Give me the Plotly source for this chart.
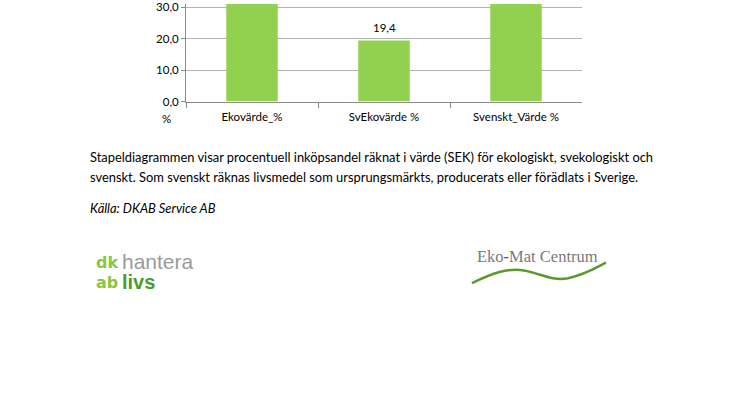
import plotly.graph_objects as go

W, H = 746, 419

categories = ["Ekovärde_%", "SvEkovärde %", "Svenskt_Värde %"]
values = [36.0, 19.4, 52.0]   # first and last bars run beyond the visible crop
y_tickvals = [0, 10, 20, 30]
y_ticktext = ["0,0", "10,0", "20,0", "30,0"]
y_top = 31.05

caption_lines = [
    "Stapeldiagrammen visar procentuell inköpsandel räknat i värde (SEK) för ekologiskt, svekologiskt och",
    "svenskt. Som svenskt räknas livsmedel som ursprungsmärkts, producerats eller förädlats i Sverige.",
]
source_text = "Källa: DKAB Service AB"

FONT = "Lato, 'Open Sans', sans-serif"

def px(x):
    return x / W

def py(y):
    return 1 - y / H

fig = go.Figure()
fig.add_trace(go.Bar(
    x=categories, y=values, width=0.39,
    marker=dict(color="#92D050", line=dict(width=0)),
    hoverinfo="skip",
))

fig.update_layout(
    width=W, height=H,
    margin=dict(l=0, r=0, t=0, b=0),
    paper_bgcolor="white", plot_bgcolor="white",
    showlegend=False,
    font=dict(family=FONT, size=11.5, color="#000000"),
    xaxis=dict(
        domain=[px(186), px(582)],
        type="category",
        showline=True, linecolor="#8a8a8a", linewidth=1,
        ticks="outside", tickson="boundaries", ticklen=5, tickcolor="#8a8a8a",
        ticklabelstandoff=5,
        showgrid=False, tickfont=dict(family=FONT, size=11.5, color="#000000"),
        fixedrange=True,
    ),
    yaxis=dict(
        domain=[py(100), 1.0],
        range=[0, y_top],
        tickvals=y_tickvals, ticktext=y_ticktext,
        ticklabeloverflow="allow",
        showline=True, linecolor="#8a8a8a", linewidth=1,
        ticks="outside", ticklen=4, tickcolor="#8a8a8a",
        showgrid=True, gridcolor="#b4b4b4", gridwidth=1,
        zeroline=False,
        tickfont=dict(family=FONT, size=11.5, color="#000000"),
        fixedrange=True,
    ),
)

# data labels (only for bars whose top is inside the visible crop)
data_labels = []
for c, v in zip(categories, values):
    if v < y_top:
        data_labels.append(dict(text=("%.1f" % v).replace(".", ","), x=c, y=v,
                                xref="x", yref="y", xanchor="center", yanchor="bottom",
                                yshift=5, showarrow=False,
                                font=dict(family=FONT, size=11.5, color="#000000")))

annotations = [
    dict(text="%", x=px(166), y=py(117), xanchor="center", yanchor="middle",
         font=dict(family=FONT, size=11.5, color="#000000")),
]
for i, line in enumerate(caption_lines):
    annotations.append(dict(text=line, x=px(88), y=py(157 + 20 * i), xanchor="left", yanchor="middle",
                            font=dict(family=FONT, size=12.9, color="#000000")))
annotations.append(dict(text="<i>" + source_text + "</i>", x=px(88), y=py(209), xanchor="left", yanchor="middle",
                        font=dict(family=FONT, size=12.9, color="#000000")))

# dk hantera ab livs logo
annotations += [
    dict(text="<b>dk</b>", x=px(94), y=py(265), xanchor="left", yanchor="middle",
         font=dict(family="'DejaVu Sans', sans-serif", size=16, color="#8cc63f")),
    dict(text="hantera", x=px(120), y=py(264), xanchor="left", yanchor="middle",
         font=dict(family="'Liberation Sans', Arial, sans-serif", size=21, color="#9a9a9a")),
    dict(text="<b>ab</b>", x=px(94), y=py(285), xanchor="left", yanchor="middle",
         font=dict(family="'DejaVu Sans', sans-serif", size=16, color="#8cc63f")),
    dict(text="<b>livs</b>", x=px(120), y=py(285), xanchor="left", yanchor="middle",
         font=dict(family="'Liberation Sans', Arial, sans-serif", size=20, color="#4f9a2c")),
]
# Eko-Mat Centrum logo
annotations.append(dict(
    text="Eko<span style='color:#c0272d'>-</span>Mat Centrum", x=px(537), y=py(259),
    xanchor="center", yanchor="middle",
    font=dict(family="'Liberation Serif', 'DejaVu Serif', serif", size=16.5, color="#7a7a7a")))

fig.update_layout(annotations=data_labels + [dict(a, xref="paper", yref="paper", showarrow=False) for a in annotations])

def P(x, y):
    return f"{px(x):.5f},{py(y):.5f}"

wave = ("M " + P(472, 286) + " C " + P(492, 276) + " " + P(508, 270) + " " + P(524, 273)
        + " C " + P(540, 276) + " " + P(552, 284) + " " + P(568, 281)
        + " C " + P(586, 277) + " " + P(598, 269) + " " + P(606, 265))
fig.add_shape(type="path", path=wave, xref="paper", yref="paper",
              line=dict(color="#5b9a2a", width=2.5))

fig.write_html("out.html", config={"displayModeBar": False},
               post_script="document.body.style.margin='0';document.body.style.overflow='hidden';")
